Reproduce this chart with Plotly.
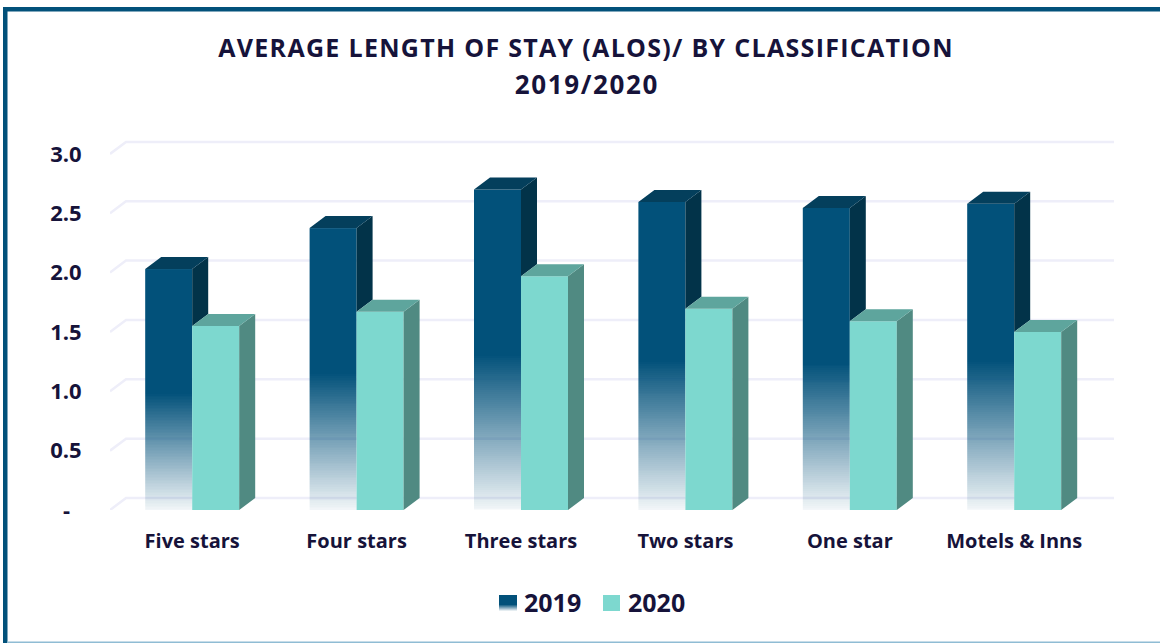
import plotly.graph_objects as go

categories = ["Five stars", "Four stars", "Three stars", "Two stars", "One star", "Motels & Inns"]
alos_2019 = [2.03, 2.375, 2.70, 2.595, 2.545, 2.58]
alos_2020 = [1.55, 1.67, 1.97, 1.695, 1.59, 1.50]
y_ticks = [0, 0.5, 1.0, 1.5, 2.0, 2.5, 3.0]
y_tick_labels = ["-\u00a0\u00a0", "0.5", "1.0", "1.5", "2.0", "2.5", "3.0"]

W, H = 1160, 643
PX_X = 164.4
PX_Y = 118.7
DX = 16 / PX_X
DY = 12 / PX_Y
BAR = 47 / PX_X
X0, X1 = -0.5, 5.65
Y0, Y1 = 0, 3.2
GRID_END = 5.607

NAVY = "#02517a"
INK = "#16133a"
FONT = "Open Sans"
positions = list(range(len(categories)))

fig = go.Figure()

# 2019 front: solid upper part, fading lower part
ROWS = 160
FADE = 0.485
fade_scale = [[0, "rgba(2,81,122,0.05)"], [1, "rgba(2,81,122,1)"]]
for p, v in zip(positions, alos_2019):
    edges = [v * r / ROWS for r in range(ROWS + 1)]
    levels = [[min(1.0, (r + 0.5) / ROWS / FADE)] for r in range(ROWS)]
    fig.add_trace(go.Heatmap(x=[p - BAR, p], y=edges, z=levels, colorscale=fade_scale, zmin=0, zmax=1,
                             showscale=False, hoverinfo="skip"))

fig.add_trace(go.Bar(x=positions, y=alos_2020, width=BAR, offset=0,
                     marker=dict(color="#7dd8cf", line=dict(width=0)), hoverinfo="skip", showlegend=False))


def face(xs, ys, color):
    fig.add_trace(go.Scatter(x=xs, y=ys, mode="lines", fill="toself", fillcolor=color,
                             line=dict(width=0, color=color), hoverinfo="skip", showlegend=False))


sx, sy, tx, ty = [], [], [], []
for p, a, b in zip(positions, alos_2019, alos_2020):
    sx += [p, p + DX, p + DX, p, p, None]
    sy += [a, a + DY, b + DY, b, a, None]
    tx += [p - BAR, p - BAR + DX, p + DX, p, p - BAR, None]
    ty += [a, a + DY, a + DY, a, a, None]
face(sx, sy, "#023349")
face(tx, ty, "#043f5c")

sx, sy, tx, ty = [], [], [], []
for p, b in zip(positions, alos_2020):
    sx += [p + BAR, p + BAR + DX, p + BAR + DX, p + BAR, p + BAR, None]
    sy += [0, DY, b + DY, b, 0, None]
    tx += [p, p + DX, p + BAR + DX, p + BAR, p, None]
    ty += [b, b + DY, b + DY, b, b, None]
face(sx, sy, "#508a82")
face(tx, ty, "#5ea59d")

shapes = []
for v in y_ticks:
    shapes.append(dict(type="path", layer="below", xref="x", yref="y",
                       path=f"M {X0} {v} L {X0 + DX} {v + DY} L {GRID_END} {v + DY}",
                       line=dict(color="#eeeef9", width=2.5)))


def rect(x0, y0, x1, y1, color):
    return dict(type="rect", xref="paper", yref="paper", x0=x0 / W, x1=x1 / W,
                y0=1 - y1 / H, y1=1 - y0 / H, fillcolor=color, line=dict(width=0), layer="below")


# frame
shapes += [rect(3, 7, W, 11.5, NAVY), rect(3, 7, 7.5, H, NAVY), rect(7, 641.5, W, 643, "#8fbcd4")]
# legend swatches
shapes.append(rect(499, 595, 517, 605, NAVY))
for k in range(6):
    shapes.append(rect(499, 605 + k, 517, 606 + k, f"rgba(2,81,122,{0.85 - 0.15 * k:.2f})"))
shapes.append(rect(603, 595, 620, 611, "#7dd8cf"))

annotations = [
    dict(text="2019/2020", xref="paper", yref="paper", x=587 / W, y=1 - 84 / H, xanchor="center", yanchor="middle",
         showarrow=False, font=dict(family=FONT, size=26, color=INK, weight="bold")),
    dict(text="2019", xref="paper", yref="paper", x=522 / W, y=1 - 602 / H, xanchor="left", yanchor="middle",
         showarrow=False, font=dict(family=FONT, size=25, color=INK, weight="bold")),
    dict(text="2020", xref="paper", yref="paper", x=626 / W, y=1 - 602 / H, xanchor="left", yanchor="middle",
         showarrow=False, font=dict(family=FONT, size=25, color=INK, weight="bold")),
]

fig.update_layout(
    width=W, height=H, margin=dict(l=0, r=0, t=0, b=0),
    paper_bgcolor="white", plot_bgcolor="rgba(0,0,0,0)",
    barmode="overlay", showlegend=False, shapes=shapes, annotations=annotations,
    title=dict(text="AVERAGE LENGTH OF STAY (ALOS)/ BY CLASSIFICATION",
               x=586 / W, xanchor="center", y=1 - 48 / H, yanchor="middle",
               font=dict(family=FONT, size=25, color=INK, weight="bold")),
    xaxis=dict(domain=[110 / W, (110 + (X1 - X0) * PX_X) / W], range=[X0, X1], tickmode="array", automargin=False,
               tickvals=positions, ticktext=categories, showgrid=False, zeroline=False, showline=False,
               ticks="outside", ticklen=13, tickcolor="rgba(0,0,0,0)",
               tickfont=dict(family=FONT, size=20, color=INK, weight="bold")),
    yaxis=dict(domain=[1 - 510 / H, 1 - (510 - (Y1 - Y0) * PX_Y) / H], range=[Y0, Y1], tickmode="array", automargin=False,
               tickvals=y_ticks, ticktext=y_tick_labels, showgrid=False, zeroline=False, showline=False,
               ticks="outside", ticklen=23, tickcolor="rgba(0,0,0,0)",
               tickfont=dict(family=FONT, size=22, color=INK, weight="bold")),
)

POST = """
document.documentElement.style.margin = '0';
document.body.style.margin = '0';
document.querySelectorAll('.gtitle').forEach(function (t) { t.style.letterSpacing = '1.3px'; });
document.querySelectorAll('.annotation-text').forEach(function (t) {
  if (t.textContent.indexOf('/') > -1) { t.style.letterSpacing = '1.6px'; }
});
"""
fig.write_html("out.html", post_script=POST, config={"displayModeBar": False})
